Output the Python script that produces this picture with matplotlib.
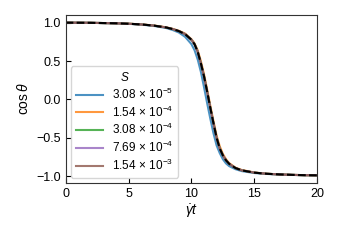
import matplotlib
matplotlib.use('Agg')
from matplotlib import pyplot as plt

plt.rcParams['font.family'] = ['Liberation Sans', 'DejaVu Sans']
plt.rcParams['mathtext.fontset'] = 'custom'
plt.rcParams['mathtext.rm'] = 'Liberation Sans'
plt.rcParams['mathtext.it'] = 'Liberation Sans:italic'
plt.rcParams['mathtext.bf'] = 'Liberation Sans:bold'

# значения
t = [0, 2, 4, 5, 6, 7, 8, 8.5, 9, 9.5, 10, 10.25, 10.5, 10.75, 11, 11.25,
     11.5, 11.75, 12, 12.25, 12.5, 12.75, 13, 13.5, 14, 15, 16, 17, 18, 19, 20]

cos_s1 = [1.0, 0.998, 0.991, 0.985, 0.975, 0.958, 0.93, 0.905, 0.872, 0.815,
          0.72, 0.64, 0.52, 0.36, 0.16, -0.05, -0.25, -0.44, -0.60, -0.70,
          -0.78, -0.835, -0.87, -0.91, -0.935, -0.96, -0.972, -0.98, -0.985,
          -0.988, -0.99]
cos_s2 = [1.0, 0.998, 0.992, 0.987, 0.978, 0.964, 0.94, 0.92, 0.895, 0.858,
          0.785, 0.73, 0.64, 0.50, 0.33, 0.13, -0.08, -0.28, -0.47, -0.61,
          -0.71, -0.78, -0.83, -0.89, -0.92, -0.953, -0.969, -0.978, -0.984,
          -0.988, -0.99]
cos_s3 = [1.0, 0.998, 0.992, 0.986, 0.977, 0.962, 0.937, 0.917, 0.89, 0.85,
          0.778, 0.72, 0.625, 0.475, 0.305, 0.105, -0.105, -0.305, -0.495,
          -0.635, -0.73, -0.795, -0.84, -0.895, -0.925, -0.955, -0.97, -0.978,
          -0.984, -0.988, -0.99]
cos_s4 = [1.0, 0.998, 0.992, 0.986, 0.977, 0.962, 0.937, 0.917, 0.89, 0.85,
          0.777, 0.718, 0.62, 0.47, 0.30, 0.10, -0.11, -0.31, -0.50, -0.64,
          -0.73, -0.795, -0.84, -0.895, -0.925, -0.955, -0.97, -0.978, -0.984,
          -0.988, -0.99]
cos_s5 = [1.0, 0.998, 0.992, 0.986, 0.977, 0.962, 0.937, 0.917, 0.89, 0.85,
          0.777, 0.718, 0.62, 0.47, 0.30, 0.10, -0.11, -0.31, -0.50, -0.64,
          -0.73, -0.795, -0.84, -0.895, -0.925, -0.955, -0.97, -0.978, -0.984,
          -0.988, -0.99]
cos_ref = [1.0, 0.998, 0.992, 0.986, 0.977, 0.962, 0.937, 0.917, 0.89, 0.85,
           0.777, 0.718, 0.62, 0.47, 0.30, 0.10, -0.11, -0.31, -0.50, -0.64,
           -0.73, -0.795, -0.84, -0.895, -0.925, -0.955, -0.97, -0.978, -0.984,
           -0.988, -0.99]

labels = [r'$3.08\,\times\,10^{-5}$', r'$1.54\,\times\,10^{-4}$',
          r'$3.08\,\times\,10^{-4}$', r'$7.69\,\times\,10^{-4}$',
          r'$1.54\,\times\,10^{-3}$']
colors = ['tab:blue', 'tab:orange', 'tab:green', 'tab:purple', 'tab:brown']

fig = plt.figure(figsize=(3.4, 2.4), dpi=100)
ax = fig.add_axes([0.193, 0.2375, 0.74, 0.7])

for ys, lab, c in zip([cos_s1, cos_s2, cos_s3, cos_s4, cos_s5], labels, colors):
    ax.plot(t, ys, color=c, lw=1.5, alpha=0.8, label=lab)
ax.plot(t, cos_ref, '--', color='black', lw=1.5)

ax.set_xlim(0, 20)
ax.set_ylim(-1.09, 1.1)
ax.set_xticks([0, 5, 10, 15, 20])
ax.set_yticks([-1.0, -0.5, 0.0, 0.5, 1.0])
ax.tick_params(direction='in', labelsize=9, length=3.5)
ax.set_xlabel(r'$\dot{\gamma}t$', fontsize=10, labelpad=2)
ax.set_ylabel(r'$\cos\theta$', fontsize=10, labelpad=4)
for sp in ax.spines.values():
    sp.set_color('#333333')

ax.legend(title='$S$', loc='lower left', fontsize=8.5, title_fontsize=8.5,
          handlelength=2.3, labelspacing=0.22, borderaxespad=0.45)

fig.savefig('out.png', dpi=100)
